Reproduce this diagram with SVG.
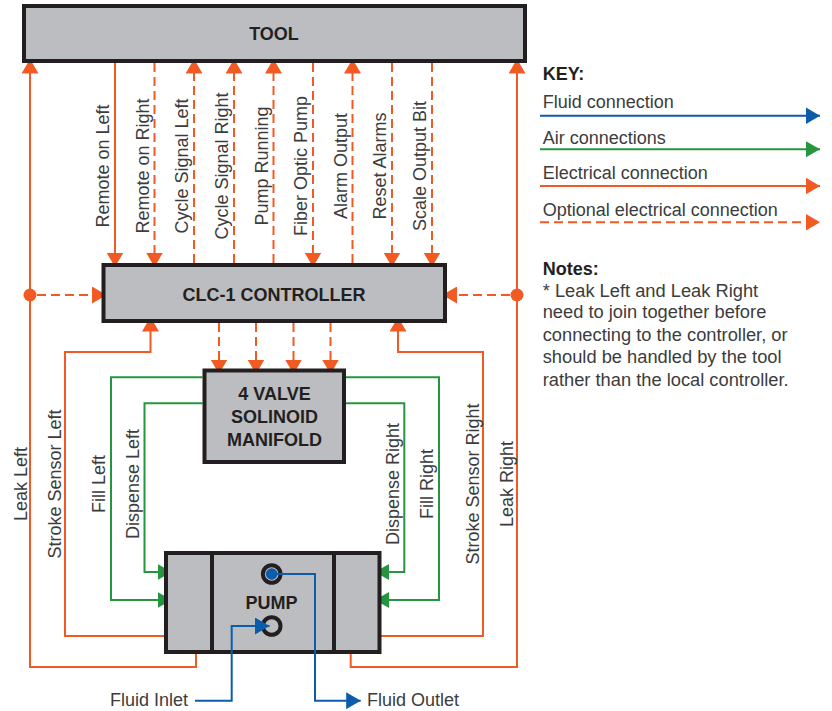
<svg xmlns="http://www.w3.org/2000/svg" width="832" height="711" viewBox="0 0 832 711">
<style>
.box{fill:#bcbdc0;stroke:#231f20;stroke-width:4}
.t{font-family:"Liberation Sans",Arial,sans-serif;font-size:18px;fill:#3c3c3c}
.n{font-size:18.3px}
.b{font-family:"Liberation Sans",Arial,sans-serif;font-size:18px;font-weight:bold;fill:#231f20}
.o{fill:none;stroke:#f15a22;stroke-width:2}
.od{fill:none;stroke:#f15a22;stroke-width:2;stroke-dasharray:9 5}
.g{fill:none;stroke:#25963f;stroke-width:2}
.bl{fill:none;stroke:#0b5dab;stroke-width:2}
.oa{marker-end:url(#ao)}
.ga{marker-end:url(#ag)}
.ba{marker-end:url(#ab)}
</style>
<defs>
<marker id="ao" markerUnits="userSpaceOnUse" markerWidth="15" markerHeight="17" refX="14.5" refY="8.5" orient="auto"><path d="M0,0 L14.5,8.5 L0,17 z" fill="#f15a22"/></marker>
<marker id="ag" markerUnits="userSpaceOnUse" markerWidth="15" markerHeight="17" refX="14" refY="8.5" orient="auto"><path d="M0,0.5 L14,8.5 L0,16.5 z" fill="#25963f"/></marker>
<marker id="ab" markerUnits="userSpaceOnUse" markerWidth="15" markerHeight="17" refX="14.5" refY="8.5" orient="auto"><path d="M0,0 L14.5,8.5 L0,17 z" fill="#0b5dab"/></marker>
</defs>
<rect width="832" height="711" fill="#ffffff"/>

<g id="connectors">
<path class="o oa" d="M196,654 V667 H30 V59"/>
<path class="o oa" d="M350.7,654 V667 H517 V59"/>
<circle cx="30" cy="295" r="6.5" fill="#f15a22"/>
<circle cx="517" cy="295" r="6.5" fill="#f15a22"/>
<path class="od oa" d="M37,295 H106.5"/>
<path class="od oa" d="M510,295 H442.5"/>
<path class="o oa" d="M166,636 H65 V352 H150.5 V317"/>
<path class="o oa" d="M381,636 H483 V352 H398 V317"/>
<path class="o oa" d="M115,63 V267"/>
<path class="od oa" d="M154.5,63 V267"/>
<path class="od oa" d="M194,263 V59"/>
<path class="od oa" d="M234,263 V59"/>
<path class="od oa" d="M273.5,263 V59"/>
<path class="od oa" d="M313,63 V267"/>
<path class="od oa" d="M352.5,263 V59"/>
<path class="od oa" d="M392,63 V267"/>
<path class="od oa" d="M432,63 V267"/>
<path class="od oa" d="M219,323 V374"/>
<path class="od oa" d="M256,323 V374"/>
<path class="od oa" d="M293.5,323 V374"/>
<path class="od oa" d="M330.5,323 V374"/>
<path class="g ga" d="M202.5,377.3 H111 V600 H171.7"/>
<path class="g ga" d="M202.5,403.3 H144.5 V572 H171.7"/>
<path class="g ga" d="M346,403.3 H404.3 V572 H375"/>
<path class="g ga" d="M346,377.3 H439 V600 H375"/>
</g>

<g id="tool">
<rect class="box" x="24" y="6" width="501" height="55"/>
<text class="b" x="274" y="40" text-anchor="middle">TOOL</text>
</g>

<g id="controller">
<rect class="box" x="103.5" y="265" width="341.5" height="56"/>
<text class="b" x="274" y="300.5" text-anchor="middle">CLC-1 CONTROLLER</text>
</g>

<g id="manifold">
<rect class="box" x="204.5" y="370.5" width="139.5" height="91.5"/>
<text class="b" x="274.5" y="400" text-anchor="middle">4 VALVE</text>
<text class="b" x="274.5" y="423" text-anchor="middle">SOLINOID</text>
<text class="b" x="274.5" y="446" text-anchor="middle">MANIFOLD</text>
</g>

<g id="pump">
<rect class="box" x="166" y="553" width="213.5" height="99"/>
<line x1="212" y1="553" x2="212" y2="652" stroke="#231f20" stroke-width="4"/>
<line x1="334" y1="553" x2="334" y2="652" stroke="#231f20" stroke-width="4"/>
<text class="b" x="271.5" y="608.5" text-anchor="middle">PUMP</text>
<circle cx="271.7" cy="574" r="8.8" fill="#bcbdc0" stroke="#231f20" stroke-width="4"/>
<circle cx="271.7" cy="574" r="5.8" fill="#0b5dab"/>
<circle cx="271.7" cy="626" r="8.8" fill="#bcbdc0" stroke="#231f20" stroke-width="4"/>
</g>

<g id="fluid">
<path class="bl" d="M271.7,574 H315 V700.7"/>
<path class="bl ba" d="M315,700 V700.7 H360.7"/>
<path class="bl ba" d="M195,700.7 H231.7 V626 H269.5"/>
<text class="t" x="188" y="705.5" text-anchor="end">Fluid Inlet</text>
<text class="t" x="367" y="705.5">Fluid Outlet</text>
</g>

<g id="labels">
<text class="t" transform="translate(109,166) rotate(-90)" text-anchor="middle">Remote on Left</text>
<text class="t" transform="translate(148.5,166) rotate(-90)" text-anchor="middle">Remote on Right</text>
<text class="t" transform="translate(188,166) rotate(-90)" text-anchor="middle">Cycle Signal Left</text>
<text class="t" transform="translate(228,166) rotate(-90)" text-anchor="middle">Cycle Signal Right</text>
<text class="t" transform="translate(267.5,166) rotate(-90)" text-anchor="middle">Pump Running</text>
<text class="t" transform="translate(307,166) rotate(-90)" text-anchor="middle">Fiber Optic Pump</text>
<text class="t" transform="translate(346.5,166) rotate(-90)" text-anchor="middle">Alarm Output</text>
<text class="t" transform="translate(386,166) rotate(-90)" text-anchor="middle">Reset Alarms</text>
<text class="t" transform="translate(426,166) rotate(-90)" text-anchor="middle">Scale Output Bit</text>
<text class="t" transform="translate(27,484) rotate(-90)" text-anchor="middle">Leak Left</text>
<text class="t" transform="translate(60.6,484) rotate(-90)" text-anchor="middle">Stroke Sensor Left</text>
<text class="t" transform="translate(104.5,484) rotate(-90)" text-anchor="middle">Fill Left</text>
<text class="t" transform="translate(139,484) rotate(-90)" text-anchor="middle">Dispense Left</text>
<text class="t" transform="translate(399,484) rotate(-90)" text-anchor="middle">Dispense Right</text>
<text class="t" transform="translate(433.4,484) rotate(-90)" text-anchor="middle">Fill Right</text>
<text class="t" transform="translate(479.4,484) rotate(-90)" text-anchor="middle">Stroke Sensor Right</text>
<text class="t" transform="translate(513.3,484) rotate(-90)" text-anchor="middle">Leak Right</text>
</g>

<g id="key">
<text class="b" x="542.7" y="80">KEY:</text>
<text class="t" x="542.7" y="108.3">Fluid connection</text>
<path class="bl ba" d="M540,115.7 H820" stroke-width="2.5"/>
<text class="t" x="542.7" y="144.3">Air connections</text>
<path class="g ga" d="M540,149.3 H820"/>
<text class="t" x="542.7" y="179.3">Electrical connection</text>
<path class="o oa" d="M540,186 H820"/>
<text class="t" x="542.7" y="215.7">Optional electrical connection</text>
<path class="od oa" d="M540,222.3 H820"/>
</g>

<g id="notes">
<text class="b" x="542.7" y="275">Notes:</text>
<text class="t n" x="542.7" y="296.7">* Leak Left and Leak Right</text>
<text class="t n" x="542.7" y="318.3">need to join together before</text>
<text class="t n" x="542.7" y="340.7">connecting to the controller, or</text>
<text class="t n" x="542.7" y="363.3">should be handled by the tool</text>
<text class="t n" x="542.7" y="386">rather than the local controller.</text>
</g>
</svg>
